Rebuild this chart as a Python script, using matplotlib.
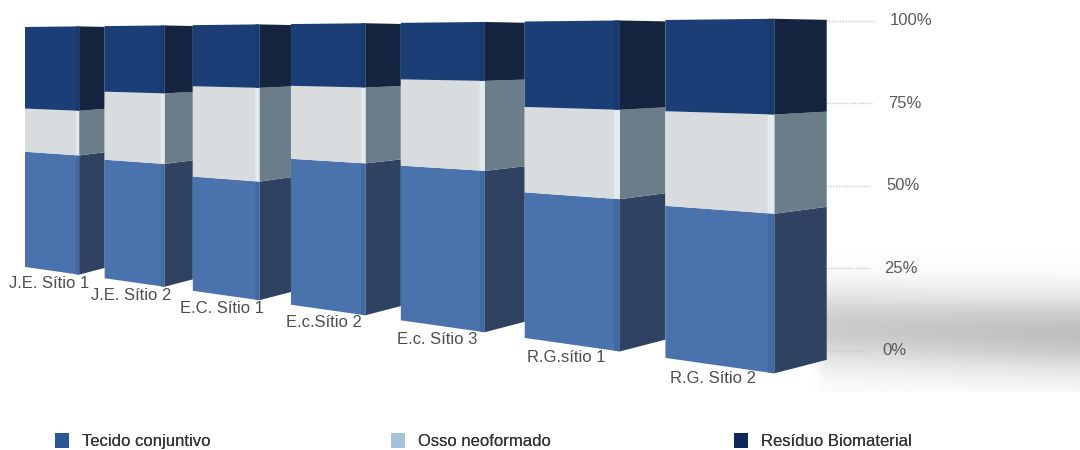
import numpy as np
import matplotlib
matplotlib.use("Agg")
import matplotlib.pyplot as plt
import matplotlib.transforms as mtransforms
from matplotlib.patches import Patch

categories = ["J.E. Sítio 1", "J.E. Sítio 2", "E.C. Sítio 1", "E.c.Sítio 2",
              "E.c. Sítio 3", "R.G.sítio 1", "R.G. Sítio 2"]
tecido = [48, 47, 43, 52, 52, 46, 45]
osso = [18, 27, 34, 26, 29, 27, 28]
residuo = [34, 26, 23, 22, 19, 27, 27]
series_names = ["Tecido conjuntivo", "Osso neoformado", "Resíduo Biomaterial"]
ticks = [0, 25, 50, 75, 100]

front_cols = ["#4a72ad", "#d9dcdf", "#1b3e76"]
edge_cols = ["#4369a0", "#e4ebf0", "#1a396d"]
side_cols = ["#2f4261", "#6c7d8a", "#16253f"]
legend_cols = ["#2c5596", "#a7c1d9", "#0c2958"]

plt.rcParams['font.family'] = ['Liberation Sans', 'DejaVu Sans']

# ---- perspective camera parameters (layout, not data) ----
W, H = 1080, 450
BAR_W = 0.69          # front width as fraction of slot
EDGE = 0.04           # rounded edge strip width (slot fraction)
P, X0, R = 74.6, 25.0, -0.0483
YH, VH, K0 = 44.1, 92.86, 2.40
Q = 0.029             # depth shrink of side faces
K_WALL, SHEAR_WALL = 3.30, 0.08


class FrontPersp(mtransforms.Transform):
    """Perspective view of the front faces: slot position u, percent v."""
    input_dims = output_dims = 2
    is_separable = False
    has_inverse = False

    def transform_non_affine(self, values):
        values = np.asarray(values, float).reshape(-1, 2)
        u, v = values[:, 0], values[:, 1]
        den = 1 + R * u
        return np.column_stack([(P * u + X0) / den, YH + (VH - v) * K0 / den])


class SidePersp(mtransforms.Transform):
    """Perspective view of the receding side faces."""
    input_dims = output_dims = 2
    is_separable = False
    has_inverse = False

    def transform_non_affine(self, values):
        values = np.asarray(values, float).reshape(-1, 2)
        u, v = values[:, 0], values[:, 1]
        i = np.floor(u - BAR_W + 1e-6)
        t = np.clip((u - i - BAR_W) / (1 - BAR_W), 0, 1)
        X = (P * u + X0) / (1 + R * u)
        den = 1 + R * (i + BAR_W) + Q * t
        return np.column_stack([X, YH + (VH - v) * K0 / den])


fig = plt.figure(figsize=(W / 100, H / 100), dpi=100)
ax = fig.add_axes([0, 0, 1, 1])
ax.set_xlim(0, W)
ax.set_ylim(H, 0)
ax.set_autoscale_on(False)
ax.axis('off')

t_front = FrontPersp() + ax.transData
t_side = SidePersp() + ax.transData
t_wall = mtransforms.Affine2D(np.array([[1, SHEAR_WALL, 0],
                                        [0, -K_WALL, YH + VH * K_WALL],
                                        [0, 0, 1]])) + ax.transData

# soft floor shadow on the right
gx = np.linspace(0, 1, 200)
gy = np.linspace(0, 1, 140)
GX, GY = np.meshgrid(gx, gy)
center = 0.55 + 0.05 * GX
alpha = 0.50 * np.exp(-((GY - center) / 0.27) ** 2) * (0.8 + 0.2 * GX)
alpha *= np.clip(GX / 0.05, 0, 1)
shadow = np.zeros((140, 200, 4))
shadow[..., :3] = 0.50
shadow[..., 3] = alpha
ax.imshow(shadow, extent=(812, 1080, 392, 248), aspect='auto',
          interpolation='bilinear', zorder=0)

idx = np.arange(len(categories))
base = np.zeros(len(categories))
for k, vals in enumerate([tecido, osso, residuo]):
    vals = np.asarray(vals, float)
    ax.bar(idx + BAR_W, vals, width=1 - BAR_W, bottom=base, align='edge',
           color=side_cols[k], linewidth=0, transform=t_side, zorder=2)
    ax.bar(idx, vals, width=BAR_W, bottom=base, align='edge',
           color=front_cols[k], linewidth=0, transform=t_front, zorder=3)
    ax.bar(idx + BAR_W - EDGE, vals, width=EDGE, bottom=base, align='edge',
           color=edge_cols[k], linewidth=0, transform=t_front, zorder=3.5)
    base += vals

# reference lines & percent labels on the back wall
for tk in ticks:
    ax.plot([812, 866], [tk, tk], color='#c9c9c9', lw=1.0,
            linestyle=(0, (1, 1)), transform=t_wall, zorder=1)
    ax.text(882, tk, f"{tk}%", color='#5a5a5a', fontsize=12,
            ha='left', va='center', transform=t_wall)

# category labels under each bar
lab_tr = mtransforms.offset_copy(t_front, fig=fig, x=0, y=-6, units='dots')
for i, c in enumerate(categories):
    ax.text(i + 0.31, 0, c, color='#4d4d4d', fontsize=12, ha='center',
            va='top', transform=lab_tr)

# legend
leg_x = [55, 391, 734]
for name, col, lx in zip(series_names, legend_cols, leg_x):
    lg = fig.legend([Patch(facecolor=col, edgecolor='none')], [name],
                    loc='center left', bbox_to_anchor=(lx / W, 1 - 441 / H),
                    frameon=False, fontsize=12, handlelength=0.85,
                    handleheight=1.0, handletextpad=0.75, borderpad=0,
                    borderaxespad=0, labelcolor='#333333')
    fig.add_artist(lg)

fig.savefig("out.png", dpi=100, facecolor='white')
